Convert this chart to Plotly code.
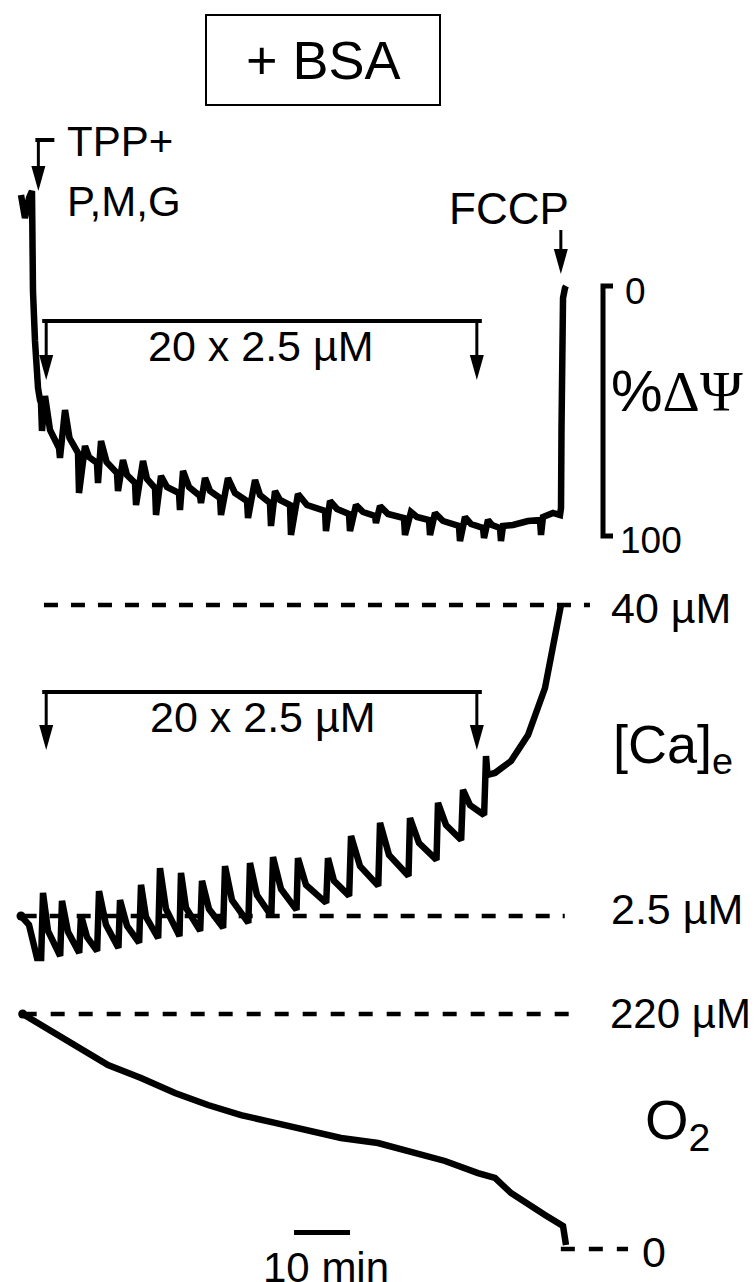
import math
import plotly.graph_objects as go

W, H = 756, 1282

# ---------------- data ----------------
# Time in minutes from start of recording
# Membrane potential (TPP+ electrode), % of ΔΨ scale (0 = top, 100 = bottom)
psi_t = [0.00, 0.71, 1.43, 1.96, 2.02, 2.07, 2.14, 2.50, 2.68, 3.04, 3.39,
         3.57, 3.75, 4.29, 5.18,
         6.79, 6.96, 7.86, 8.66,
         10.18, 10.36, 11.43, 12.14,
         13.57, 13.75, 14.29, 15.29,
         17.14, 17.32, 18.21, 18.93,
         20.36, 20.54, 21.79, 22.50,
         23.93, 24.11, 25.00, 26.07,
         28.21, 28.39, 28.93, 30.00,
         31.96, 32.14, 32.86, 33.75,
         35.54, 35.71, 36.96, 38.21,
         40.36, 40.54, 41.79, 42.68,
         44.46, 44.64, 45.36, 46.25,
         48.04, 48.21, 49.46, 51.07,
         54.29, 54.46, 55.18, 56.43,
         58.57, 58.75, 59.82, 61.07,
         63.21, 63.39, 64.11, 65.54,
         68.39, 68.57, 69.64, 70.71,
         72.86, 73.04, 73.93, 75.36,
         78.21, 78.39, 79.29, 80.36,
         82.50, 82.68, 83.39, 84.11,
         85.54, 85.71, 86.07, 87.86, 90.54, 92.68, 92.86, 93.21, 95.00, 96.25,
         96.43, 96.52, 96.61, 96.79, 97.14, 97.32]
psi_pct = [-36.4, -27.2, -35.2, -38.0, -25.2, -11.2, 2.0, 22.0, 32.8, 40.8, 45.6,
           46.8, 58.0, 44.0, 57.6,
           64.8, 68.8, 49.6, 60.8,
           66.8, 82.8, 64.0, 68.4,
           70.8, 78.8, 62.0, 70.4,
           74.8, 82.0, 69.6, 75.6,
           78.8, 87.6, 70.0, 77.2,
           80.8, 91.6, 76.0, 80.4,
           82.8, 89.6, 74.0, 80.4,
           84.0, 86.8, 76.8, 82.0,
           84.8, 91.6, 76.8, 82.8,
           86.0, 92.8, 77.6, 83.6,
           86.8, 96.0, 82.0, 85.6,
           87.6, 99.6, 83.2, 87.6,
           90.0, 98.0, 86.0, 89.2,
           91.2, 98.0, 87.6, 90.4,
           92.0, 94.8, 88.0, 91.2,
           92.8, 99.6, 90.4, 92.4,
           93.6, 99.6, 90.8, 94.0,
           96.0, 102.0, 92.4, 95.2,
           96.8, 100.8, 93.6, 95.6,
           96.8, 102.0, 96.0, 95.6, 94.0, 93.6, 99.6, 92.4, 90.8, 91.6,
           88.8, 56.8, 20.8, 4.8, 0.8, 0.0]

# Extramitochondrial Ca (µM, electrode -> log scale)
ca_t = [0.00, 1.43, 2.86, 3.60, 3.93, 4.82,
        7.00, 7.32, 8.39,
        10.40, 10.71, 11.79,
        13.60, 13.93, 15.18,
        17.40, 17.68, 18.93,
        21.10, 21.43, 22.32,
        24.50, 24.82, 25.89,
        28.30, 28.57, 29.46,
        32.00, 32.32, 33.57,
        36.10, 36.43, 37.68,
        40.60, 40.89, 42.14,
        44.70, 45.00, 46.43,
        49.20, 49.46, 50.89,
        54.50, 54.82, 55.89,
        58.60, 58.93, 60.54,
        63.80, 64.11, 65.71,
        69.20, 69.46, 71.07,
        74.20, 74.46, 75.89,
        78.60, 78.93, 80.18,
        82.70, 83.04, 83.30, 84.64, 87.50, 90.54, 93.57, 95.36, 96.43]
ca_um = [2.50, 2.31, 1.72, 1.72, 3.07, 2.19,
         1.75, 2.86, 2.17,
         1.80, 2.52, 2.07,
         1.83, 3.12, 2.31,
         1.88, 2.88, 2.29,
         1.97, 3.30, 2.48,
         2.05, 3.83, 2.66,
         2.09, 3.67, 2.69,
         2.19, 3.42, 2.66,
         2.25, 3.90, 2.88,
         2.35, 4.01, 3.01,
         2.50, 4.23, 3.18,
         2.64, 4.19, 3.30,
         2.81, 4.19, 3.42,
         2.99, 5.10, 3.90,
         3.27, 5.73, 4.31,
         3.57, 5.99, 4.79,
         4.12, 6.85, 5.63,
         4.92, 7.69, 6.72,
         6.15, 10.41, 8.79, 8.95, 9.95, 12.55, 19.08, 29.81, 40.0]

# Oxygen (µM)
o2_t = [0.30, 3.57, 9.64, 15.54, 21.43, 27.50, 33.39, 39.29, 45.36, 51.25, 57.14,
        63.75, 69.64, 75.71, 81.61, 84.64, 87.50, 90.54, 93.57, 96.79, 97.32]
o2_um = [220.0, 209.7, 190.0, 172.3, 160.1, 146.0, 134.8, 125.4, 118.0, 111.4, 103.9,
         99.2, 91.7, 82.4, 71.1, 66.5, 52.4, 41.2, 31.8, 21.5, 3.7]

# reference levels and labels
ca_levels = [40.0, 2.5]
ca_level_labels = ["40 µM", "2.5 µM"]
ca_level_span = [(4.1, 101.6), (0.3, 97.1)]
o2_levels = [220.0, 0.0]
o2_level_labels = ["220 µM", "0"]
o2_level_span = [(0.3, 98.6), (96.4, 108.4)]
psi_scale = [0, 100]
psi_scale_labels = ["0", "100"]

# events (min)
t_tpp = 3.1
t_ca_first = 4.5
t_ca_last = 81.4
t_fccp = 96.4
scale_bar_start = 48.75
scale_bar_len = 10.0  # min

# ---------------- geometry ----------------
X0_PX, PX_PER_MIN = 13.0, 5.6
PSI0_PX, PX_PER_PCT = 278.0, 2.5
CA_REF, CA_REF_PX, PX_PER_DEC = 2.5, 908.0, 258.3
O2_ZERO_PX, PX_PER_O2 = 1241.0, 1.0682

def px_x(t):
    return X0_PX + PX_PER_MIN * t

def PX(x):
    return x / W

def PY(y):
    return 1 - y / H

SANS = "Liberation Sans, Arial, Helvetica, sans-serif"
SERIF = "Liberation Serif, Times New Roman, serif"

fig = go.Figure()

line_style = dict(color="black", width=6.5)
fig.add_trace(go.Scatter(x=psi_t, y=psi_pct, mode="lines", line=line_style,
                         yaxis="y", hoverinfo="skip"))
fig.add_trace(go.Scatter(x=ca_t, y=ca_um, mode="lines", line=line_style,
                         yaxis="y2", hoverinfo="skip"))
fig.add_trace(go.Scatter(x=o2_t, y=o2_um, mode="lines", line=line_style,
                         yaxis="y3", hoverinfo="skip"))
# start dots
fig.add_trace(go.Scatter(x=[ca_t[0]], y=[ca_um[0]], mode="markers",
                         marker=dict(size=9, color="black"), yaxis="y2", hoverinfo="skip"))
fig.add_trace(go.Scatter(x=[o2_t[0]], y=[o2_um[0]], mode="markers",
                         marker=dict(size=9, color="black"), yaxis="y3", hoverinfo="skip"))

# dashed reference levels
for lev, (a, b) in zip(ca_levels, ca_level_span):
    fig.add_trace(go.Scatter(x=[a, b], y=[lev, lev], mode="lines", yaxis="y2",
                             line=dict(color="black", width=4.5, dash="14px,13px"),
                             hoverinfo="skip"))
for lev, (a, b) in zip(o2_levels, o2_level_span):
    fig.add_trace(go.Scatter(x=[a, b], y=[lev, lev], mode="lines", yaxis="y3",
                             line=dict(color="black", width=4.5, dash="14px,14px"),
                             hoverinfo="skip"))

shapes = []

def seg(x0, y0, x1, y1, w):
    shapes.append(dict(type="line", xref="paper", yref="paper",
                       x0=PX(x0), y0=PY(y0), x1=PX(x1), y1=PY(y1),
                       line=dict(color="black", width=w)))

def head(xc, ytip, w=14, h=25):
    p = "M {a},{b} L {c},{b} L {d},{e} Z".format(
        a=PX(xc - w / 2), b=PY(ytip - h), c=PX(xc + w / 2), d=PX(xc), e=PY(ytip))
    shapes.append(dict(type="path", xref="paper", yref="paper", path=p,
                       fillcolor="black", line=dict(width=0)))

# + BSA box
shapes.append(dict(type="rect", xref="paper", yref="paper",
                   x0=PX(198), y0=PY(97), x1=PX(432), y1=PY(7),
                   line=dict(color="black", width=2)))

# TPP+ arrow
xt = px_x(t_tpp)
seg(xt - 3, 132, xt + 16, 132, 4)
seg(xt, 130, xt, 162, 3)
head(xt, 183)

# FCCP arrow
xf = px_x(t_fccp)
seg(xf, 222, xf, 243, 3)
head(xf, 266)

# addition brackets (ΔΨ and Ca)
xa, xb = px_x(t_ca_first), px_x(t_ca_last)
for ybar, ytip in [(313, 372), (684, 742)]:
    seg(xa - 4, ybar, xb + 5, ybar, 4)
    seg(xa, ybar, xa, ytip - 22, 3)
    seg(xb, ybar, xb, ytip - 22, 3)
    head(xa, ytip)
    head(xb, ytip)

# %ΔΨ scale bracket (in ΔΨ data units)
shapes.append(dict(type="path", xref="paper", yref="y",
                   path="M {r},{a} L {l},{a} L {l},{b} L {r},{b}".format(
                       r=PX(605), l=PX(595), a=psi_scale[0], b=psi_scale[1]),
                   line=dict(color="black", width=5)))

# time scale bar
shapes.append(dict(type="line", xref="x", yref="paper",
                   x0=scale_bar_start, x1=scale_bar_start + scale_bar_len,
                   y0=PY(1224.5), y1=PY(1224.5), line=dict(color="black", width=5)))

annotations = []

def ann(text, x, y, size, xanchor="center", family=SANS):
    annotations.append(dict(text=text, x=PX(x), y=PY(y), xref="paper", yref="paper",
                            xanchor=xanchor, yanchor="middle", showarrow=False,
                            font=dict(family=family, size=size, color="black")))

ann("+ BSA", 315, 52, 54)
ann("TPP+", 57, 133, 42, "left")
ann("P,M,G", 57, 194, 42, "left")
ann("20 x 2.5 µM", 253, 338, 43)
ann("20 x 2.5 µM", 255, 709, 43)
ann("FCCP", 501, 201, 44)
ann(psi_scale_labels[0], 615, 283, 37, "left")
ann(psi_scale_labels[1], 610, 532, 37, "left")
ann('%<span style="font-family:Liberation Serif, Times New Roman, serif">ΔΨ</span>',
    601, 383, 58, "left")
ann(ca_level_labels[0], 601, 600, 43, "left")
ann("[Ca]<sub>e</sub>", 603, 740, 54, "left")
ann(ca_level_labels[1], 601, 901, 43, "left")
ann(o2_level_labels[0], 600, 1005, 42, "left")
ann("O<sub>2</sub>", 635, 1115, 56, "left")
ann(o2_level_labels[1], 632, 1244, 43, "left")
ann("10 min", 318, 1259, 42)

fig.update_layout(
    width=W, height=H, autosize=False,
    margin=dict(l=0, r=0, t=0, b=0, pad=0),
    paper_bgcolor="white", plot_bgcolor="white",
    showlegend=False,
    xaxis=dict(range=[(0 - X0_PX) / PX_PER_MIN, (W - X0_PX) / PX_PER_MIN],
               visible=False, fixedrange=True),
    yaxis=dict(range=[(H - PSI0_PX) / PX_PER_PCT, (0 - PSI0_PX) / PX_PER_PCT],
               visible=False, fixedrange=True),
    yaxis2=dict(type="log", overlaying="y", visible=False, fixedrange=True,
                range=[math.log10(CA_REF) - (H - CA_REF_PX) / PX_PER_DEC,
                       math.log10(CA_REF) + CA_REF_PX / PX_PER_DEC]),
    yaxis3=dict(overlaying="y", visible=False, fixedrange=True,
                range=[-(H - O2_ZERO_PX) / PX_PER_O2, O2_ZERO_PX / PX_PER_O2]),
    shapes=shapes,
    annotations=annotations,
)

fig.write_html("out.html", config={"displayModeBar": False})
